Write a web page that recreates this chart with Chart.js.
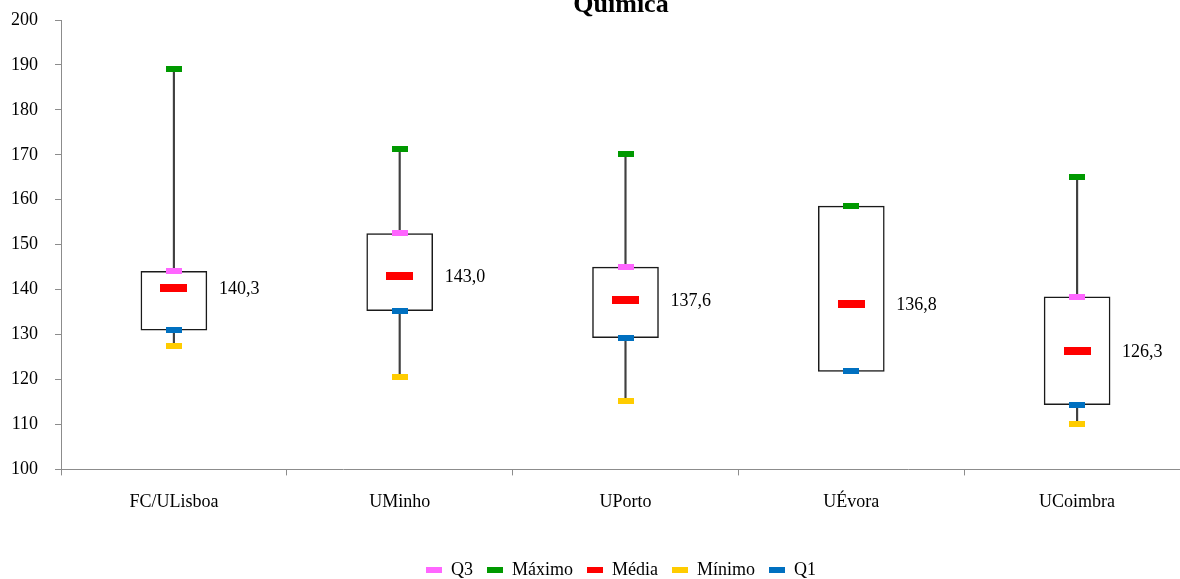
<!DOCTYPE html>
<html>
<head>
<meta charset="utf-8">
<script src="https://cdn.jsdelivr.net/npm/chart.js@4/dist/chart.umd.min.js"></script>
<style>
  html, body { margin: 0; padding: 0; background: #fff; overflow: hidden; }
  #wrap { width: 1242px; height: 579px; position: relative; }
</style>
</head>
<body>
<div id="wrap"><canvas id="chart"></canvas></div>
<script>
const categories = ["FC/ULisboa", "UMinho", "UPorto", "UÉvora", "UCoimbra"];
const q3 = [144.1, 152.5, 145.0, 158.6, 138.4];
const maximo = [189.1, 171.4, 170.1, 158.6, 165.0];
const media = [140.3, 143.0, 137.6, 136.8, 126.3];
const minimo = [127.5, 120.6, 115.3, 121.8, 110.2];
const q1 = [131.0, 135.3, 129.3, 121.8, 114.4];

const colorsMap = {
  q3: "#ff66ff",
  max: "#009900",
  mean: "#ff0000",
  min: "#ffcc00",
  q1: "#0070c0"
};

const FONT = "'Liberation Serif', 'Times New Roman', serif";
const AXIS_GREY = "#8c8c8c";

// little rectangles used as point markers
function marker(color, w, h) {
  const c = document.createElement("canvas");
  c.width = w;
  c.height = h;
  const ctx = c.getContext("2d");
  ctx.fillStyle = color;
  ctx.fillRect(0, 0, w, h);
  return c;
}

const boxes = categories.map((_, i) => [q1[i], q3[i]]);
const whiskers = categories.map((_, i) => [minimo[i], maximo[i]]);

function markerSet(label, data, color, order, w, h) {
  return {
    type: "line",
    label: label,
    data: data,
    showLine: false,
    pointStyle: marker(color, w, h),
    pointRadius: 4,
    pointHoverRadius: 4,
    pointBorderWidth: 0,
    backgroundColor: color,
    borderColor: color,
    order: order
  };
}

const meanLabels = {
  id: "meanLabels",
  afterDatasetsDraw(chart) {
    const idx = chart.data.datasets.findIndex(d => d.label === "Média");
    const meta = chart.getDatasetMeta(idx);
    const ctx = chart.ctx;
    ctx.save();
    ctx.font = "18px " + FONT;
    ctx.fillStyle = "#000";
    ctx.textAlign = "left";
    ctx.textBaseline = "middle";
    meta.data.forEach((pt, i) => {
      ctx.fillText(media[i].toFixed(1).replace(".", ","), pt.x + 45, pt.y + 1);
    });
    ctx.restore();
  }
};

// title sits partly above the top edge, like the original
const cutTitle = {
  id: "cutTitle",
  afterDraw(chart) {
    const ctx = chart.ctx;
    ctx.save();
    ctx.font = "bold 26px " + FONT;
    ctx.fillStyle = "#000";
    ctx.textAlign = "center";
    ctx.textBaseline = "alphabetic";
    ctx.fillText("Química", chart.width / 2, 12);
    ctx.restore();
  }
};

// legend is centred on the whole chart, not on the padded area
const legendShift = {
  id: "legendShift",
  beforeDraw(chart) {
    const lg = chart.legend;
    if (!lg || lg._shifted === chart.width) return;
    const d = (chart.width - (lg.left + lg.right)) / 2;
    lg.left += d;
    lg.right += d;
    lg._shifted = chart.width;
  }
};

const legendColors = [colorsMap.q3, colorsMap.max, colorsMap.mean, colorsMap.min, colorsMap.q1];

const ctx = document.getElementById("chart").getContext("2d");
new Chart(ctx, {
  data: {
    labels: categories,
    datasets: [
      {
        type: "bar",
        label: "whisker",
        data: whiskers,
        backgroundColor: "#404040",
        barThickness: 1.5,
        grouped: false,
        order: 10
      },
      {
        type: "bar",
        label: "box",
        data: boxes,
        backgroundColor: "#ffffff",
        borderColor: "#1a1a1a",
        borderWidth: 1.5,
        borderSkipped: false,
        barThickness: 66,
        grouped: false,
        order: 9
      },
      markerSet("Q3", q3, colorsMap.q3, 3, 16, 6),
      markerSet("Máximo", maximo, colorsMap.max, 1, 16, 6),
      markerSet("Média", media, colorsMap.mean, 1, 27, 8),
      markerSet("Mínimo", minimo, colorsMap.min, 3, 16, 6),
      markerSet("Q1", q1, colorsMap.q1, 1, 16, 6)
    ]
  },
  options: {
    responsive: true,
    maintainAspectRatio: false,
    animation: false,
    layout: { autoPadding: false, padding: { top: 20, left: -6, right: 52, bottom: -10 } },
    scales: {
      x: {
        type: "category",
        offset: true,
        grid: {
          offset: true,
          drawOnChartArea: false,
          drawTicks: true,
          tickLength: 6,
          color: AXIS_GREY
        },
        border: { color: AXIS_GREY, width: 1 },
        ticks: {
          padding: 16,
          color: "#000",
          font: { family: FONT, size: 18 }
        },
        afterFit: scale => { scale.height += 18; }
      },
      y: {
        min: 100,
        max: 200,
        grid: {
          drawOnChartArea: false,
          drawTicks: true,
          tickLength: 6,
          color: AXIS_GREY
        },
        border: { color: AXIS_GREY, width: 1 },
        ticks: {
          stepSize: 10,
          padding: 17,
          color: "#000",
          font: { family: FONT, size: 18 }
        },
        // tick padding is meant for the horizontal gap only
        afterFit: scale => { scale.paddingTop = 0; scale.paddingBottom = 0; }
      }
    },
    plugins: {
      title: { display: false },
      tooltip: { enabled: false },
      legend: {
        position: "bottom",
        labels: {
          usePointStyle: true,
          pointStyleWidth: 16,
          boxHeight: 6,
          padding: 14,
          color: "#000",
          font: { family: FONT, size: 18 },
          filter: item => item.datasetIndex >= 2,
          sort: (a, b) => a.datasetIndex - b.datasetIndex,
          generateLabels: chart => {
            const items = Chart.defaults.plugins.legend.labels.generateLabels(chart);
            items.forEach(it => {
              if (it.datasetIndex >= 2) {
                it.pointStyle = marker(legendColors[it.datasetIndex - 2], 16, 6);
              }
            });
            return items;
          }
        }
      }
    }
  },
  plugins: [meanLabels, cutTitle, legendShift]
});
</script>
</body>
</html>
